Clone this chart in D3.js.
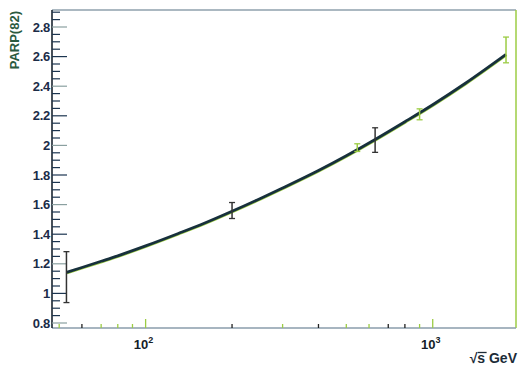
<!DOCTYPE html>
<html><head><meta charset="utf-8">
<script src="https://cdn.jsdelivr.net/npm/d3@7"></script>
<style>body{margin:0;background:#fff}svg{display:block}text{font-family:"Liberation Sans",Arial,sans-serif;font-weight:bold}</style>
</head><body><svg id="c" width="518" height="366"></svg>
<script>
// curve (sqrt s in GeV, PARP(82))
const curveX = [53, 60, 70, 80, 100, 130, 160, 200, 250, 300, 400, 500, 630, 800, 1000, 1300, 1800];
const curveY = [1.142, 1.175, 1.217, 1.254, 1.321, 1.405, 1.474, 1.555, 1.64, 1.712, 1.83, 1.93, 2.04, 2.16, 2.275, 2.42, 2.615];
// data points with errors
const ptX   = [53, 200, 546, 630, 900, 1800];
const ptY   = [1.11, 1.56, 1.985, 2.036, 2.21, 2.645];
const ptErr = [0.172, 0.054, 0.026, 0.083, 0.037, 0.087];
const ptCol = ["#333333", "#333333", "#9ccc44", "#333333", "#9ccc44", "#9ccc44"];
const yTicks = [0.8, 1, 1.2, 1.4, 1.6, 1.8, 2, 2.2, 2.4, 2.6, 2.8];
const yTickLabels = ["0.8", "1", "1.2", "1.4", "1.6", "1.8", "2", "2.2", "2.4", "2.6", "2.8"];
const xMinor = [50, 60, 70, 80, 90, 200, 300, 400, 500, 600, 700, 800, 900];
const xMinorCol = ["#9ccc44", "#222", "#9ccc44", "#9ccc44", "#9ccc44", "#222", "#9ccc44", "#222", "#9ccc44", "#9ccc44", "#222", "#222", "#9ccc44"];
const xMajor = [100, 1000];
const xMajorExp = ["2", "3"];

const svg = d3.select("#c");
const L = 52, R = 516, T = 10, B = 328;
const x = d3.scaleLog().domain([47.2, 1950]).range([L, R]);
const y = d3.scaleLinear().domain([0.8 - 5/148, 0.8 + 318/148 - 5/148]).range([B, T]);

// frame
svg.append("line").attr("x1", L).attr("x2", R).attr("y1", T).attr("y2", T).attr("stroke", "#8fa0ad").attr("stroke-width", 1.5);
svg.append("line").attr("x1", R).attr("x2", R).attr("y1", T).attr("y2", B).attr("stroke", "#9ccc44").attr("stroke-width", 1.5);
svg.append("line").attr("x1", L).attr("x2", R).attr("y1", B).attr("y2", B).attr("stroke", "#8a9cab").attr("stroke-width", 1.5);
svg.append("line").attr("x1", L).attr("x2", L).attr("y1", T).attr("y2", B).attr("stroke", "#1a2530").attr("stroke-width", 1.6);

// y ticks
const yMin = [];
for (let v = 0.8; v <= 2.9; v += 0.05) { yMin.push(+v.toFixed(2)); }
svg.selectAll(".ym").data(yMin).enter().append("line")
  .attr("x1", L).attr("x2", d => yTicks.some(t => Math.abs(t - d) < 1e-6) ? L + 15 : L + 8)
  .attr("y1", d => y(d)).attr("y2", d => y(d))
  .attr("stroke", (d, i) => (i % 4 === 0) ? ((i / 4) % 2 ? "#1c3550" : "#8aa0a0") : "#1c3550")
  .attr("stroke-width", 1.2);
svg.selectAll(".yl").data(yTicks).enter().append("text")
  .attr("x", L - 2).attr("y", d => y(d) + 4.5).attr("text-anchor", "end")
  .attr("font-size", 13).attr("fill", "#1c2c48").attr("letter-spacing", -0.3)
  .text((d, i) => yTickLabels[i]);

// x ticks
svg.selectAll(".xm").data(xMinor).enter().append("line")
  .attr("x1", d => x(d)).attr("x2", d => x(d)).attr("y1", B).attr("y2", B - 4)
  .attr("stroke", (d, i) => xMinorCol[i]).attr("stroke-width", 1.3);
svg.selectAll(".xM").data(xMajor).enter().append("line")
  .attr("x1", d => x(d)).attr("x2", d => x(d)).attr("y1", B).attr("y2", B - 9)
  .attr("stroke", "#9ccc44").attr("stroke-width", 1.3);
const xl = svg.selectAll(".xl").data(xMajor).enter().append("text")
  .attr("x", d => x(d) - 2).attr("y", 349).attr("text-anchor", "middle")
  .attr("font-size", 13).attr("fill", "#151d28");
xl.append("tspan").text("10");
xl.append("tspan").attr("dy", -6).attr("font-size", 9).text((d, i) => xMajorExp[i]);

const xt = svg.append("text").attr("x", 517).attr("y", 363).attr("text-anchor", "end")
  .attr("font-size", 14).attr("fill", "#1c2c38").text("√s GeV");
// overline of the radical over "s"
const bb = xt.node().getBBox();
svg.append("line").attr("x1", bb.x + 8).attr("x2", bb.x + 17).attr("y1", bb.y + 2.5).attr("y2", bb.y + 2.5)
  .attr("stroke", "#1c2c38").attr("stroke-width", 1.3);

svg.append("text").attr("transform", "translate(19," + (T + 1) + ") rotate(-90)")
  .attr("text-anchor", "end").attr("font-size", 13).attr("fill", "#2a5a40").text("PARP(82)");

// curve
const pts = curveX.map((d, i) => [d, curveY[i]]);
svg.append("path").datum(pts)
  .attr("d", d3.line().x(d => x(d[0])).y(d => y(d[1])).curve(d3.curveMonotoneX))
  .attr("fill", "none").attr("stroke", "#9ccc44").attr("stroke-width", 2.2).attr("transform", "translate(0.6,0.8)");
svg.append("path").datum(pts)
  .attr("d", d3.line().x(d => x(d[0])).y(d => y(d[1])).curve(d3.curveMonotoneX))
  .attr("fill", "none").attr("stroke", "#17303c").attr("stroke-width", 2.8);

// error bars
const eb = svg.selectAll(".eb").data(ptX).enter().append("g");
eb.append("line").attr("x1", d => x(d)).attr("x2", d => x(d))
  .attr("y1", (d, i) => y(ptY[i] + ptErr[i])).attr("y2", (d, i) => y(ptY[i] - ptErr[i]))
  .attr("stroke", (d, i) => ptCol[i]).attr("stroke-width", 1.5);
eb.append("line").attr("x1", d => x(d) - 3).attr("x2", d => x(d) + 3)
  .attr("y1", (d, i) => y(ptY[i] + ptErr[i])).attr("y2", (d, i) => y(ptY[i] + ptErr[i]))
  .attr("stroke", (d, i) => ptCol[i]).attr("stroke-width", 1.3);
eb.append("line").attr("x1", d => x(d) - 3).attr("x2", d => x(d) + 3)
  .attr("y1", (d, i) => y(ptY[i] - ptErr[i])).attr("y2", (d, i) => y(ptY[i] - ptErr[i]))
  .attr("stroke", (d, i) => ptCol[i]).attr("stroke-width", 1.3);
</script></body></html>
